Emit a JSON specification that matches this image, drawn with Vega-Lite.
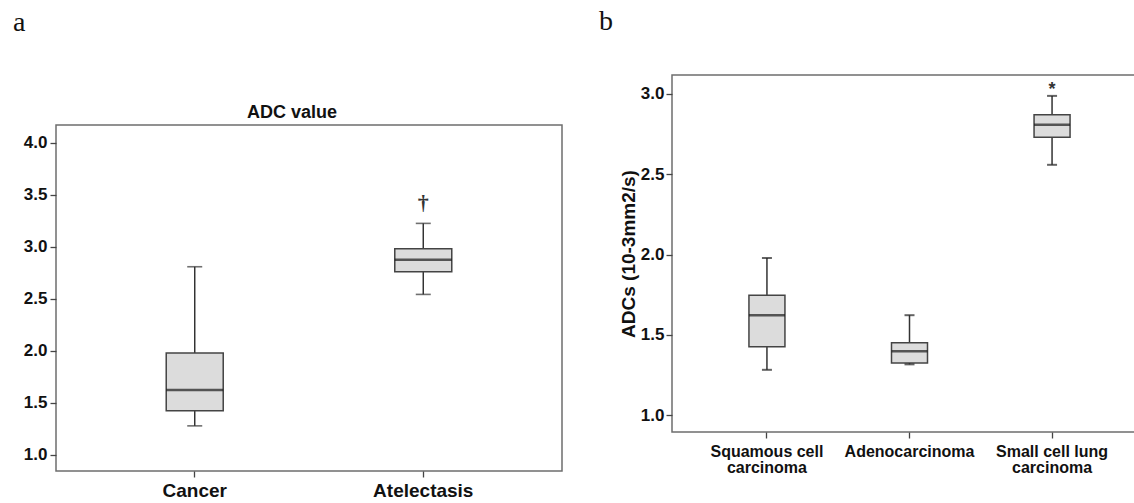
{
  "$schema": "https://vega.github.io/schema/vega-lite/v6.json",
  "padding": {"left": 13, "top": 8, "right": 0, "bottom": 0},
  "background": "white",
  "spacing": 36,
  "config": {
    "font": "Liberation Sans",
    "view": {"stroke": "#6e6e6e", "strokeWidth": 1.5},
    "axis": {"domain": false, "grid": false, "tickColor": "#444", "tickWidth": 1.3, "labelColor": "#111", "labelFontWeight": "bold", "titleColor": "#111", "titleFontWeight": "bold"}
  },
  "hconcat": [
    {
      "title": {"text": "a", "anchor": "start", "frame": "group", "font": "Liberation Serif", "fontSize": 28, "fontWeight": "normal", "color": "#111", "dx": -43, "offset": 38},
      "spacing": 2,
      "vconcat": [
        {
          "width": 472,
          "height": 47,
          "view": {"stroke": null},
          "data": {"values": [{"label": "ADC value"}]},
          "mark": {"type": "text", "fontSize": 18, "fontWeight": "bold", "color": "#111", "baseline": "bottom", "align": "center"},
          "encoding": {"y": {"value": "height"}, "text": {"field": "label"}}
        },
        {
          "width": 506,
          "height": 346,
          "data": {"values": [
            {"group": "Cancer", "lower": 1.28, "q1": 1.426, "median": 1.625, "q3": 1.98, "upper": 2.81},
            {"group": "Atelectasis", "lower": 2.544, "q1": 2.763, "median": 2.878, "q3": 2.984, "upper": 3.227}
          ]},
          "encoding": {
            "x": {"field": "group", "type": "nominal", "sort": null, "title": null,
              "scale": {"paddingInner": 0, "paddingOuter": 0.107},
              "axis": {"labelAngle": 0, "labelFontSize": 19, "labelPadding": 4, "tickSize": 6}}
          },
          "layer": [
            {"mark": {"type": "rule", "color": "#333", "strokeWidth": 1.5},
             "encoding": {
               "y": {"field": "lower", "type": "quantitative", "scale": {"domain": [0.846, 4.173], "nice": false, "zero": false},
                 "axis": {"title": null, "values": [1, 1.5, 2, 2.5, 3, 3.5, 4], "format": ".1f", "labelFontSize": 17, "labelPadding": 3, "tickSize": 6}},
               "y2": {"field": "upper"}}},
            {"mark": {"type": "bar", "size": 57, "fill": "#dcdcdc", "stroke": "#444", "strokeWidth": 1.5},
             "encoding": {
               "y": {"field": "q1", "type": "quantitative", "scale": {"domain": [0.846, 4.173], "nice": false, "zero": false},
                 "axis": {"title": null, "values": [1, 1.5, 2, 2.5, 3, 3.5, 4], "format": ".1f", "labelFontSize": 17, "labelPadding": 3, "tickSize": 6}},
               "y2": {"field": "q3"}}},
            {"mark": {"type": "tick", "size": 57, "thickness": 2.5, "color": "#1a1a1a"},
             "encoding": {"y": {"field": "median", "type": "quantitative", "scale": {"domain": [0.846, 4.173], "nice": false, "zero": false},
                 "axis": {"title": null, "values": [1, 1.5, 2, 2.5, 3, 3.5, 4], "format": ".1f", "labelFontSize": 17, "labelPadding": 3, "tickSize": 6}}}},
            {"mark": {"type": "tick", "size": 15, "thickness": 1.6, "color": "#333"},
             "encoding": {"y": {"field": "lower", "type": "quantitative", "scale": {"domain": [0.846, 4.173], "nice": false, "zero": false},
                 "axis": {"title": null, "values": [1, 1.5, 2, 2.5, 3, 3.5, 4], "format": ".1f", "labelFontSize": 17, "labelPadding": 3, "tickSize": 6}}}},
            {"mark": {"type": "tick", "size": 15, "thickness": 1.6, "color": "#333"},
             "encoding": {"y": {"field": "upper", "type": "quantitative", "scale": {"domain": [0.846, 4.173], "nice": false, "zero": false},
                 "axis": {"title": null, "values": [1, 1.5, 2, 2.5, 3, 3.5, 4], "format": ".1f", "labelFontSize": 17, "labelPadding": 3, "tickSize": 6}}}},
            {"data": {"values": [{"group": "Atelectasis", "value": 3.42, "symbol": "†"}]},
             "mark": {"type": "text", "font": "Liberation Serif", "fontSize": 22, "fontWeight": "bold", "color": "#333", "baseline": "middle"},
             "encoding": {
               "y": {"field": "value", "type": "quantitative", "scale": {"domain": [0.846, 4.173], "nice": false, "zero": false},
                 "axis": {"title": null, "values": [1, 1.5, 2, 2.5, 3, 3.5, 4], "format": ".1f", "labelFontSize": 17, "labelPadding": 3, "tickSize": 6}},
               "text": {"field": "symbol"}}}
          ]
        }
      ]
    },
    {
      "title": {"text": "b", "anchor": "start", "frame": "group", "font": "Liberation Serif", "fontSize": 28, "fontWeight": "normal", "color": "#111", "dx": -73, "offset": 38},
      "hconcat": [
        {
          "width": 475,
          "height": 357,
          "data": {"values": [
            {"type": "Squamous cell carcinoma", "lower": 1.283, "q1": 1.426, "median": 1.623, "q3": 1.747, "upper": 1.979},
            {"type": "Adenocarcinoma", "lower": 1.317, "q1": 1.325, "median": 1.398, "q3": 1.451, "upper": 1.623},
            {"type": "Small cell lung carcinoma", "lower": 2.559, "q1": 2.73, "median": 2.809, "q3": 2.87, "upper": 2.988}
          ]},
          "encoding": {
            "x": {"field": "type", "type": "nominal", "sort": null, "title": null,
              "scale": {"paddingInner": 0, "paddingOuter": 0.166},
              "axis": {"labelAngle": 0, "labelFontSize": 16, "labelPadding": 5, "tickSize": 6, "labelLineHeight": 16.5,
                "labelExpr": "datum.value == 'Squamous cell carcinoma' ? ['Squamous cell', 'carcinoma'] : datum.value == 'Small cell lung carcinoma' ? ['Small cell lung', 'carcinoma'] : datum.label"}}
          },
          "layer": [
            {"mark": {"type": "rule", "color": "#333", "strokeWidth": 1.5},
             "encoding": {
               "y": {"field": "lower", "type": "quantitative", "scale": {"domain": [0.896, 3.118], "nice": false, "zero": false},
                 "axis": {"title": "ADCs (10-3mm2/s)", "titleFontSize": 19, "titlePadding": 2, "values": [1, 1.5, 2, 2.5, 3], "format": ".1f", "labelFontSize": 17, "labelPadding": 2, "tickSize": 6}},
               "y2": {"field": "upper"}}},
            {"mark": {"type": "bar", "size": 36, "fill": "#dcdcdc", "stroke": "#444", "strokeWidth": 1.5},
             "encoding": {
               "y": {"field": "q1", "type": "quantitative", "scale": {"domain": [0.896, 3.118], "nice": false, "zero": false},
                 "axis": {"title": "ADCs (10-3mm2/s)", "titleFontSize": 19, "titlePadding": 2, "values": [1, 1.5, 2, 2.5, 3], "format": ".1f", "labelFontSize": 17, "labelPadding": 2, "tickSize": 6}},
               "y2": {"field": "q3"}}},
            {"mark": {"type": "tick", "size": 36, "thickness": 2.5, "color": "#1a1a1a"},
             "encoding": {"y": {"field": "median", "type": "quantitative", "scale": {"domain": [0.896, 3.118], "nice": false, "zero": false},
                 "axis": {"title": "ADCs (10-3mm2/s)", "titleFontSize": 19, "titlePadding": 2, "values": [1, 1.5, 2, 2.5, 3], "format": ".1f", "labelFontSize": 17, "labelPadding": 2, "tickSize": 6}}}},
            {"mark": {"type": "tick", "size": 10, "thickness": 2, "color": "#222"},
             "encoding": {"y": {"field": "lower", "type": "quantitative", "scale": {"domain": [0.896, 3.118], "nice": false, "zero": false},
                 "axis": {"title": "ADCs (10-3mm2/s)", "titleFontSize": 19, "titlePadding": 2, "values": [1, 1.5, 2, 2.5, 3], "format": ".1f", "labelFontSize": 17, "labelPadding": 2, "tickSize": 6}}}},
            {"mark": {"type": "tick", "size": 10, "thickness": 2, "color": "#222"},
             "encoding": {"y": {"field": "upper", "type": "quantitative", "scale": {"domain": [0.896, 3.118], "nice": false, "zero": false},
                 "axis": {"title": "ADCs (10-3mm2/s)", "titleFontSize": 19, "titlePadding": 2, "values": [1, 1.5, 2, 2.5, 3], "format": ".1f", "labelFontSize": 17, "labelPadding": 2, "tickSize": 6}}}},
            {"data": {"values": [{"type": "Small cell lung carcinoma", "value": 3.023, "symbol": "*"}]},
             "mark": {"type": "text", "fontSize": 18, "fontWeight": "bold", "color": "#333", "baseline": "middle"},
             "encoding": {
               "y": {"field": "value", "type": "quantitative", "scale": {"domain": [0.896, 3.118], "nice": false, "zero": false},
                 "axis": {"title": "ADCs (10-3mm2/s)", "titleFontSize": 19, "titlePadding": 2, "values": [1, 1.5, 2, 2.5, 3], "format": ".1f", "labelFontSize": 17, "labelPadding": 2, "tickSize": 6}},
               "text": {"field": "symbol"}}}
          ]
        }
      ]
    }
  ]
}
